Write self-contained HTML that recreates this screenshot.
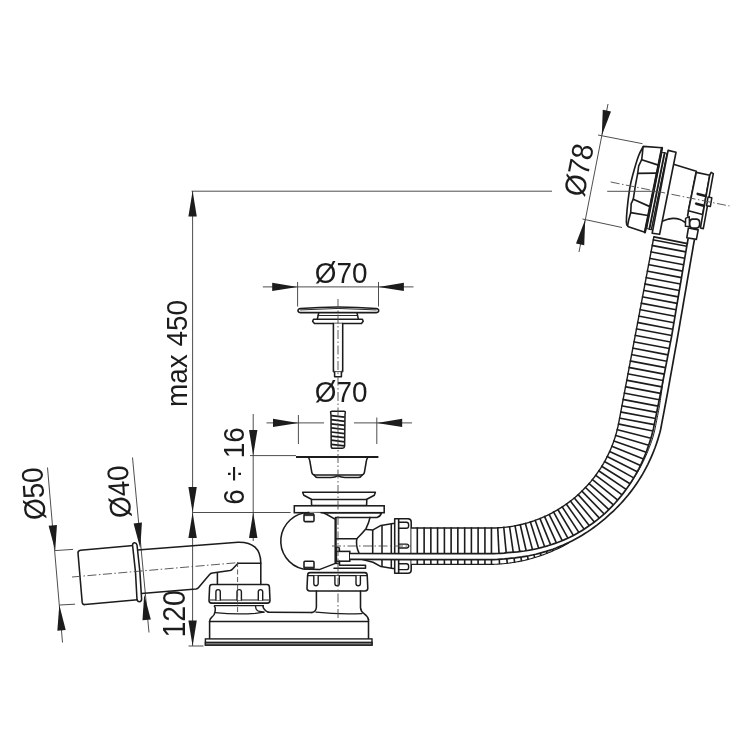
<!DOCTYPE html>
<html lang="pl"><head><meta charset="utf-8"><title>Syfon wannowy - rysunek wymiarowy</title>
<style>
html,body{margin:0;padding:0;background:#fff;}
body{width:750px;height:750px;overflow:hidden;}
svg{display:block;filter:grayscale(100%);}
text{font-family:"Liberation Sans",sans-serif;fill:#1c1c1c;}
</style></head><body>
<svg width="750" height="750" viewBox="0 0 750 750">
<rect width="750" height="750" fill="#ffffff"/>
<line x1="191.6" y1="191.2" x2="552" y2="191.2" stroke="#454545" stroke-width="0.95" stroke-linecap="butt"/>
<line x1="192.6" y1="191" x2="192.6" y2="646" stroke="#454545" stroke-width="0.95" stroke-linecap="butt"/>
<polygon points="192.6,191 196.8,216.4 188.4,216.4" fill="#1c1c1c"/>
<polygon points="192.6,512.5 188.4,487.1 196.8,487.1" fill="#1c1c1c"/>
<polygon points="192.6,512.5 196.8,537.9 188.4,537.9" fill="#1c1c1c"/>
<polygon points="192.6,646 188.4,620.6 196.8,620.6" fill="#1c1c1c"/>
<line x1="188.5" y1="646" x2="203.5" y2="646" stroke="#454545" stroke-width="0.95" stroke-linecap="butt"/>
<line x1="192.6" y1="512.5" x2="290.6" y2="512.5" stroke="#454545" stroke-width="0.95" stroke-linecap="butt"/>
<text font-size="30" text-anchor="middle" transform="translate(186.7 353.5) rotate(-90) scale(0.93 1)">max 450</text>
<text font-size="30.6" text-anchor="middle" transform="translate(184.8 613.8) rotate(-90) scale(0.93 1)">120</text>
<line x1="253.2" y1="414" x2="253.2" y2="541" stroke="#454545" stroke-width="0.95" stroke-linecap="butt"/>
<polygon points="253.2,455.4 249,430 257.4,430" fill="#1c1c1c"/>
<polygon points="253.2,512.5 257.4,537.9 249,537.9" fill="#1c1c1c"/>
<line x1="250" y1="455.6" x2="296" y2="455.6" stroke="#454545" stroke-width="0.95" stroke-linecap="butt"/>
<text font-size="30" text-anchor="middle" transform="translate(243.6 466) rotate(-90) scale(0.93 1)">6 ÷ 16</text>
<line x1="262.8" y1="286.9" x2="413.5" y2="286.9" stroke="#454545" stroke-width="0.95" stroke-linecap="butt"/>
<polygon points="297.6,286.9 272.2,291.1 272.2,282.7" fill="#1c1c1c"/>
<polygon points="378.5,286.9 403.9,282.7 403.9,291.1" fill="#1c1c1c"/>
<line x1="297.6" y1="282" x2="297.6" y2="306.5" stroke="#454545" stroke-width="0.95" stroke-linecap="butt"/>
<line x1="378.5" y1="282" x2="378.5" y2="306.5" stroke="#454545" stroke-width="0.95" stroke-linecap="butt"/>
<text font-size="30" text-anchor="middle" transform="translate(341.2 282.6) rotate(0) scale(0.93 1)">Ø70</text>
<line x1="266.5" y1="422.9" x2="324" y2="422.9" stroke="#454545" stroke-width="0.95" stroke-linecap="butt"/>
<line x1="354" y1="422.9" x2="412" y2="422.9" stroke="#454545" stroke-width="0.95" stroke-linecap="butt"/>
<polygon points="298.4,422.9 273,427.1 273,418.7" fill="#1c1c1c"/>
<polygon points="376.8,422.9 402.2,418.7 402.2,427.1" fill="#1c1c1c"/>
<line x1="298.4" y1="415" x2="298.4" y2="444" stroke="#454545" stroke-width="0.95" stroke-linecap="butt"/>
<line x1="376.8" y1="417.5" x2="376.8" y2="444" stroke="#454545" stroke-width="0.95" stroke-linecap="butt"/>
<text font-size="30" text-anchor="middle" transform="translate(341.2 401.6) rotate(0) scale(0.93 1)">Ø70</text>
<line x1="47.5" y1="467.5" x2="62.5" y2="642.5" stroke="#454545" stroke-width="0.95" stroke-linecap="butt"/>
<polygon points="55.2,550.6 48.59,525.72 56.95,524.91" fill="#1c1c1c"/>
<polygon points="59.3,605 65.71,629.93 57.34,630.67" fill="#1c1c1c"/>
<line x1="55" y1="550.6" x2="73" y2="549.4" stroke="#454545" stroke-width="0.95" stroke-linecap="butt"/>
<line x1="59.5" y1="605" x2="75" y2="604.2" stroke="#454545" stroke-width="0.95" stroke-linecap="butt"/>
<text font-size="30" text-anchor="middle" transform="translate(44 493) rotate(-94) scale(0.93 1)">Ø50</text>
<line x1="132.5" y1="457.5" x2="149" y2="632.5" stroke="#454545" stroke-width="0.95" stroke-linecap="butt"/>
<polygon points="140.2,548.3 133.59,523.42 141.95,522.61" fill="#1c1c1c"/>
<polygon points="144.2,594.5 150.81,619.38 142.45,620.19" fill="#1c1c1c"/>
<text font-size="30" text-anchor="middle" transform="translate(129.5 491) rotate(-94) scale(0.93 1)">Ø40</text>
<line x1="608" y1="104" x2="579" y2="252" stroke="#454545" stroke-width="0.95" stroke-linecap="butt"/>
<polygon points="601.8,135.5 602.76,109.77 610.99,111.45" fill="#1c1c1c"/>
<polygon points="585.2,219.5 584.24,245.23 576.01,243.55" fill="#1c1c1c"/>
<line x1="598" y1="135" x2="642.5" y2="143.7" stroke="#454545" stroke-width="0.95" stroke-linecap="butt"/>
<line x1="582.5" y1="219" x2="622" y2="227.5" stroke="#454545" stroke-width="0.95" stroke-linecap="butt"/>
<text font-size="30" text-anchor="middle" transform="translate(589 172) rotate(-79) scale(0.93 1)">Ø78</text>
<path d="M298,310.6 Q298,308.9 300.5,308.6 Q338,305.2 376.2,308.6 Q378.7,308.9 378.7,310.6 Q378.7,312.6 376.5,312.6 L300.2,312.6 Q298,312.6 298,310.6 Z" fill="#fff" stroke="#1c1c1c" stroke-width="1.55" stroke-linejoin="round" stroke-linecap="round"/>
<path d="M300.5,309.9 Q338,307 376.2,309.9" fill="none" stroke="#1c1c1c" stroke-width="0.95" stroke-linejoin="round" stroke-linecap="round"/>
<path d="M318.7,312.8 L317.3,319.3 M357,312.8 L358.4,319.3" fill="none" stroke="#1c1c1c" stroke-width="1.55" stroke-linejoin="round" stroke-linecap="round"/>
<path d="M318,315.5 L357.7,315.5" fill="none" stroke="#1c1c1c" stroke-width="0.95" stroke-linejoin="round" stroke-linecap="round"/>
<path d="M313.5,319.3 L362.4,319.3 L363.2,321.3 L361.5,323.4 L314.4,323.4 L312.6,321.3 Z" fill="#fff" stroke="#1c1c1c" stroke-width="1.55" stroke-linejoin="round" stroke-linecap="round"/>
<path d="M333.4,323.6 L333.4,371.6 L334.6,371.6 L334.6,376.7 L341.4,376.7 L341.4,371.6 L342.7,371.6 L342.7,323.6" fill="#fff" stroke="#1c1c1c" stroke-width="1.55" stroke-linejoin="round" stroke-linecap="round"/>
<line x1="333.4" y1="371.6" x2="342.7" y2="371.6" stroke="#454545" stroke-width="0.95" stroke-linecap="butt"/>
<path d="M330.6,412.2 Q330.4,411.3 332,411.3 L344,411.3 Q345.5,411.3 345.3,412.5 L345,415 L344.6,446.5 Q344.4,448.3 342.5,448.3 L333,448.3 Q331.2,448.3 331.2,446.5 L331,415 Z" fill="#fff" stroke="#1c1c1c" stroke-width="1.5" stroke-linejoin="round" stroke-linecap="round"/>
<line x1="331.2" y1="415.6" x2="344.7" y2="417.2" stroke="#1c1c1c" stroke-width="1.7" stroke-linecap="butt"/>
<line x1="331.2" y1="419.7" x2="344.7" y2="421.3" stroke="#1c1c1c" stroke-width="1.7" stroke-linecap="butt"/>
<line x1="331.2" y1="423.8" x2="344.7" y2="425.4" stroke="#1c1c1c" stroke-width="1.7" stroke-linecap="butt"/>
<line x1="331.2" y1="427.9" x2="344.7" y2="429.5" stroke="#1c1c1c" stroke-width="1.7" stroke-linecap="butt"/>
<line x1="331.2" y1="432" x2="344.7" y2="433.6" stroke="#1c1c1c" stroke-width="1.7" stroke-linecap="butt"/>
<line x1="331.2" y1="436.1" x2="344.7" y2="437.7" stroke="#1c1c1c" stroke-width="1.7" stroke-linecap="butt"/>
<line x1="331.2" y1="440.2" x2="344.7" y2="441.8" stroke="#1c1c1c" stroke-width="1.7" stroke-linecap="butt"/>
<line x1="331.2" y1="444.3" x2="344.7" y2="445.9" stroke="#1c1c1c" stroke-width="1.7" stroke-linecap="butt"/>
<line x1="296" y1="457" x2="378.4" y2="457" stroke="#1c1c1c" stroke-width="2.0" stroke-linecap="butt"/>
<path d="M308.6,457.8 Q309.6,458.6 310,462 L311.8,472.4 Q312.2,474.8 315,475 L361.2,475 Q364,474.8 364.4,472.4 L366.2,462 Q366.6,458.6 367.6,457.8" fill="none" stroke="#1c1c1c" stroke-width="1.55" stroke-linejoin="round" stroke-linecap="round"/>
<path d="M314,475.2 Q315.5,477.6 318,477.5 L331,477.5 Q335,477.4 338,475.8 Q341,477.4 345,477.5 L358.2,477.5 Q360.7,477.6 362.2,475.2" fill="none" stroke="#1c1c1c" stroke-width="1.55" stroke-linejoin="round" stroke-linecap="round"/>
<path d="M302.7,492.3 L375.4,492.3 L374.3,495.2 L366.8,499.3 L366.6,505.4 L311.6,505.4 L311.4,499.3 L303.8,495.2 Z" fill="#fff" stroke="#1c1c1c" stroke-width="1.55" stroke-linejoin="round" stroke-linecap="round"/>
<line x1="311.4" y1="499.4" x2="366.8" y2="499.4" stroke="#1c1c1c" stroke-width="1.55" stroke-linecap="butt"/>
<rect x="294.3" y="505.8" width="89.9" height="6.9" rx="0" fill="#fff" stroke="#1c1c1c" stroke-width="1.55"/>
<path d="M327,512.8 L381.5,512.8 Q380.5,516.6 377,517.4 L335.5,517.4" fill="none" stroke="#1c1c1c" stroke-width="1.55" stroke-linejoin="round" stroke-linecap="round"/>
<path d="M309,512.6 A28.5,28.5 0 0 0 303,568.9 L319.3,569.6 L335.4,563.4 L335.4,519.4 L326,514 Q323.5,512.8 321,512.8" fill="#fff" stroke="#1c1c1c" stroke-width="1.55" stroke-linejoin="round" stroke-linecap="round"/>
<line x1="335.7" y1="517.4" x2="335.7" y2="563.4" stroke="#1c1c1c" stroke-width="2.0" stroke-linecap="butt"/>
<rect x="304" y="514" width="10" height="7.6" rx="1" fill="#fff" stroke="#1c1c1c" stroke-width="1.55"/>
<rect x="304.3" y="513.6" width="9.4" height="2.2" rx="0" fill="#333" stroke="#1c1c1c" stroke-width="0.6"/>
<rect x="304" y="561.2" width="10" height="7.6" rx="1" fill="#fff" stroke="#1c1c1c" stroke-width="1.55"/>
<rect x="304.3" y="567" width="9.4" height="2.2" rx="0" fill="#333" stroke="#1c1c1c" stroke-width="0.6"/>
<path d="M370,517.4 Q369.2,522 366,528.7 Q362,533.5 356.8,538.7 L336,538.7" fill="none" stroke="#1c1c1c" stroke-width="1.55" stroke-linejoin="round" stroke-linecap="round"/>
<path d="M356.8,538.7 Q355.6,546 359,553" fill="none" stroke="#1c1c1c" stroke-width="1.55" stroke-linejoin="round" stroke-linecap="round"/>
<path d="M366.3,529.6 L373,529.9 L381,525.4 L393,523.5 L394.7,523.5" fill="none" stroke="#1c1c1c" stroke-width="1.55" stroke-linejoin="round" stroke-linecap="round"/>
<path d="M362.5,559.6 L373,562.2 L381,566.6 L393,568.5 L394.7,568.5" fill="none" stroke="#1c1c1c" stroke-width="1.55" stroke-linejoin="round" stroke-linecap="round"/>
<line x1="372.7" y1="530" x2="372.7" y2="553.3" stroke="#1c1c1c" stroke-width="1.55" stroke-linecap="butt"/>
<line x1="382" y1="525.2" x2="382" y2="553.3" stroke="#1c1c1c" stroke-width="1.55" stroke-linecap="butt"/>
<line x1="391.3" y1="523.7" x2="391.3" y2="553.3" stroke="#1c1c1c" stroke-width="1.55" stroke-linecap="butt"/>
<line x1="382" y1="559.4" x2="382" y2="567" stroke="#1c1c1c" stroke-width="1.55" stroke-linecap="butt"/>
<line x1="391.3" y1="559.4" x2="391.3" y2="568.3" stroke="#1c1c1c" stroke-width="1.55" stroke-linecap="butt"/>
<path d="M394.7,518.7 L398.7,518.7 L398.7,573.3 L394.7,573.3 Z" fill="#fff" stroke="#1c1c1c" stroke-width="1.55" stroke-linejoin="round" stroke-linecap="round"/>
<path d="M398.7,518.7 L408,518.7 Q411.2,518.7 411.2,522 L411.2,570 Q411.2,573.3 408,573.3 L398.7,573.3 Z" fill="#fff" stroke="#1c1c1c" stroke-width="1.55" stroke-linejoin="round" stroke-linecap="round"/>
<path d="M398.7,522.3 L406.40000000000003,522.3 Q408.6,522.3 408.6,524.5 L408.6,526.0 Q408.6,528.2 406.40000000000003,528.2 L398.7,528.2" fill="none" stroke="#1c1c1c" stroke-width="1.4" stroke-linejoin="round" stroke-linecap="round"/>
<path d="M398.7,544.1 L406.65000000000003,544.1 Q408.6,544.1 408.6,546.05 L408.6,546.05 Q408.6,548 406.65000000000003,548 L398.7,548" fill="none" stroke="#1c1c1c" stroke-width="1.4" stroke-linejoin="round" stroke-linecap="round"/>
<path d="M398.7,563.8 L406.40000000000003,563.8 Q408.6,563.8 408.6,566.0 L408.6,567.4 Q408.6,569.6 406.40000000000003,569.6 L398.7,569.6" fill="none" stroke="#1c1c1c" stroke-width="1.4" stroke-linejoin="round" stroke-linecap="round"/>
<path d="M336,551.3 L336,548.8 Q336,547.3 337.7,547.3 Q339.4,547.3 339.4,548.8 L339.4,551.3" fill="none" stroke="#1c1c1c" stroke-width="1.55" stroke-linejoin="round" stroke-linecap="round"/>
<rect x="336.4" y="551.4" width="13.4" height="9.8" rx="0" fill="#fff" stroke="#1c1c1c" stroke-width="1.55"/>
<path d="M339.5,561.3 L339.5,565.3 L365.5,565.3 L365.5,568.2 L334,568.2" fill="none" stroke="#1c1c1c" stroke-width="1.55" stroke-linejoin="round" stroke-linecap="round"/>
<line x1="335.4" y1="563.4" x2="339.5" y2="563.4" stroke="#1c1c1c" stroke-width="1.55" stroke-linecap="butt"/>
<path d="M268.3,612.3 L312,612.6" fill="none" stroke="#1c1c1c" stroke-width="1.55" stroke-linejoin="round" stroke-linecap="round"/>
<path d="M209.6,621.5 L368.4,621.5" fill="none" stroke="#1c1c1c" stroke-width="1.55" stroke-linejoin="round" stroke-linecap="round"/>
<path d="M209.6,621.5 L209.6,638.8 M368.5,619.6 L368.5,638.8" fill="none" stroke="#1c1c1c" stroke-width="1.55" stroke-linejoin="round" stroke-linecap="round"/>
<rect x="205.4" y="638.9" width="166.6" height="6.2" rx="0" fill="#fff" stroke="#1c1c1c" stroke-width="1.4"/>
<rect x="205.4" y="642.3" width="166.6" height="2.8" rx="0" fill="#777" stroke="#1c1c1c" stroke-width="1.3"/>
<path d="M212.10000000000002,584.4 L266.9,584.4 Q269.3,584.4 269.4,587.0 L270.0,600.5 Q270.0,603.1 267.3,603.1 L211.70000000000002,603.1 Q209.0,603.1 209.0,600.5 L209.60000000000002,587.0 Q209.70000000000002,584.4 212.10000000000002,584.4 Z" fill="#fff" stroke="#1c1c1c" stroke-width="1.55" stroke-linejoin="round" stroke-linecap="round"/>
<line x1="209.7" y1="600" x2="269.3" y2="600" stroke="#1c1c1c" stroke-width="1.2" stroke-linecap="butt"/>
<path d="M215.9,600.0 L215.9,591.8 A2.2,2.2 0 0 1 220.29999999999998,591.8 L220.29999999999998,600.0" fill="#fff" stroke="#1c1c1c" stroke-width="1.4" stroke-linejoin="round" stroke-linecap="round"/>
<path d="M237.0,600.0 L237.0,591.8 A2.2,2.2 0 0 1 241.39999999999998,591.8 L241.39999999999998,600.0" fill="#fff" stroke="#1c1c1c" stroke-width="1.4" stroke-linejoin="round" stroke-linecap="round"/>
<path d="M258.3,600.0 L258.3,591.8 A2.2,2.2 0 0 1 262.7,591.8 L262.7,600.0" fill="#fff" stroke="#1c1c1c" stroke-width="1.4" stroke-linejoin="round" stroke-linecap="round"/>
<line x1="213.9" y1="605.7" x2="264" y2="605.7" stroke="#1c1c1c" stroke-width="1.2" stroke-linecap="butt"/>
<path d="M214.4,606.4 Q215.4,607 215.3,609 L215,612 Q214.6,615.2 211.6,617.4 Q209.8,618.8 209.6,621.5" fill="none" stroke="#1c1c1c" stroke-width="1.55" stroke-linejoin="round" stroke-linecap="round"/>
<path d="M215,612.7 Q237,614.8 255.5,613.3 L264,612.2" fill="none" stroke="#1c1c1c" stroke-width="1.2" stroke-linejoin="round" stroke-linecap="round"/>
<path d="M255.5,606 Q255.6,610 258.4,611.2 L264,612.2" fill="none" stroke="#1c1c1c" stroke-width="1.2" stroke-linejoin="round" stroke-linecap="round"/>
<path d="M262.9,606 Q263.2,609.6 268.3,612.3" fill="none" stroke="#1c1c1c" stroke-width="1.55" stroke-linejoin="round" stroke-linecap="round"/>
<path d="M310.1,572.6 L364.7,572.6 Q367.1,572.6 367.2,575.2 L367.8,588.3 Q367.8,590.9 365.1,590.9 L309.7,590.9 Q307.0,590.9 307.0,588.3 L307.6,575.2 Q307.7,572.6 310.1,572.6 Z" fill="#fff" stroke="#1c1c1c" stroke-width="1.55" stroke-linejoin="round" stroke-linecap="round"/>
<line x1="307.9" y1="575.7" x2="366.9" y2="575.7" stroke="#1c1c1c" stroke-width="1.2" stroke-linecap="butt"/>
<path d="M313.8,575.7 L313.8,583.5 A2.2,2.2 0 0 0 318.2,583.5 L318.2,575.7" fill="#fff" stroke="#1c1c1c" stroke-width="1.4" stroke-linejoin="round" stroke-linecap="round"/>
<path d="M334.90000000000003,575.7 L334.90000000000003,583.5 A2.2,2.2 0 0 0 339.3,583.5 L339.3,575.7" fill="#fff" stroke="#1c1c1c" stroke-width="1.4" stroke-linejoin="round" stroke-linecap="round"/>
<path d="M356.0,575.7 L356.0,583.5 A2.2,2.2 0 0 0 360.4,583.5 L360.4,575.7" fill="#fff" stroke="#1c1c1c" stroke-width="1.4" stroke-linejoin="round" stroke-linecap="round"/>
<path d="M316.4,590.9 L316.4,607 Q316.2,611.6 312,612.6" fill="none" stroke="#1c1c1c" stroke-width="1.55" stroke-linejoin="round" stroke-linecap="round"/>
<path d="M360.5,590.9 L360.5,607.6 Q360.8,611.4 364,613.6 Q368,616.4 368.5,619.6" fill="none" stroke="#1c1c1c" stroke-width="1.55" stroke-linejoin="round" stroke-linecap="round"/>
<path d="M316,612.2 Q338,614.6 362,613.6" fill="none" stroke="#1c1c1c" stroke-width="1.2" stroke-linejoin="round" stroke-linecap="round"/>
<path d="M137.6,550 L238,542.2 Q260.6,541.6 260.8,563 L260.8,584.4" fill="none" stroke="#1c1c1c" stroke-width="1.55" stroke-linejoin="round" stroke-linecap="round"/>
<path d="M141.4,593.4 L196,588.9 Q197.6,588.7 198.6,587.5 L209.6,574.6 Q210.6,573.4 212.5,573.1 L230,570.5 Q231.6,570.2 232.6,569 L238,563.3 L260.8,563.2" fill="none" stroke="#1c1c1c" stroke-width="1.55" stroke-linejoin="round" stroke-linecap="round"/>
<line x1="217.4" y1="572.8" x2="217.4" y2="584.4" stroke="#1c1c1c" stroke-width="1.55" stroke-linecap="butt"/>
<path d="M133.4,545.4 L80.4,550.2 Q77.8,550.6 78,553 L82.2,602.4 Q82.6,604.8 85,604.6 L137.6,599.8" fill="none" stroke="#1c1c1c" stroke-width="1.55" stroke-linejoin="round" stroke-linecap="round"/>
<path d="M134.2,542.8 Q136.4,542.6 137,545 Q140.6,573 141.6,599 Q141.6,601.6 139.4,601.7 Q137.4,601.7 137,599.4 Q136.2,572 132.6,545.4 Q132.4,543.2 134.2,542.8 Z" fill="#fff" stroke="#1c1c1c" stroke-width="1.55" stroke-linejoin="round" stroke-linecap="round"/>
<line x1="338" y1="299" x2="338" y2="620" stroke="#4a4a4a" stroke-width="0.9" stroke-dasharray="9 2.5 1.5 2.5" stroke-linecap="butt"/>
<line x1="237.6" y1="562" x2="237.6" y2="612" stroke="#4a4a4a" stroke-width="0.9" stroke-dasharray="5 2.5" stroke-linecap="butt"/>
<line x1="72" y1="577" x2="236" y2="562.8" stroke="#4a4a4a" stroke-width="0.9" stroke-dasharray="9 2.5 1.5 2.5" stroke-linecap="butt"/>
<line x1="332" y1="546" x2="415.5" y2="546" stroke="#4a4a4a" stroke-width="0.9" stroke-dasharray="9 2.5 1.5 2.5" stroke-linecap="butt"/>
<path d="M411.4,528 L414.2,528 L417,528 L419.8,528 L422.6,528 L425.4,528 L428.2,528 L431,528 L433.8,528 L436.6,528 L439.4,528 L442.2,528 L445,528 L447.8,528 L450.6,528 L453.4,528 L456.2,528 L459.01,528 L461.81,528 L464.61,528 L467.41,528 L470.21,528 L473.01,528 L475.81,528 L478.61,528 L481.41,528 L484.21,528 L487.01,528 L489.81,528 L492.61,527.99 L495.41,527.93 L498.21,527.82 L501,527.64 L503.79,527.4 L506.57,527.1 L509.35,526.74 L512.12,526.32 L514.88,525.84 L517.63,525.3 L520.36,524.7 L523.09,524.05 L525.79,523.33 L528.48,522.56 L531.16,521.73 L533.81,520.84 L536.45,519.89 L539.06,518.89 L541.66,517.83 L544.23,516.72 L546.77,515.55 L549.29,514.33 L551.78,513.05 L554.24,511.72 L556.68,510.33 L559.08,508.9 L561.45,507.41 L563.79,505.87 L566.1,504.28 L568.37,502.64 L570.61,500.96 L572.8,499.22 L574.96,497.44 L577.09,495.61 L579.17,493.74 L581.21,491.82 L583.21,489.86 L585.16,487.85 L587.07,485.81 L588.94,483.72 L590.76,481.6 L592.54,479.43 L594.27,477.23 L595.95,474.99 L597.58,472.71 L599.16,470.4 L600.7,468.06 L602.18,465.68 L603.61,463.28 L604.99,460.84 L606.31,458.37 L607.58,455.88 L608.8,453.35 L609.96,450.81 L611.07,448.23 L612.12,445.64 L613.12,443.02 L614.05,440.38 L614.94,437.72 L615.76,435.05 L616.53,432.36 L617.23,429.65 L617.88,426.92 L618.47,424.18 L619.01,421.44 L619.53,418.68 L620.05,415.93 L620.57,413.18 L621.09,410.43 L621.61,407.68 L622.13,404.93 L622.65,402.17 L623.17,399.42 L623.69,396.67 L624.21,393.92 L624.73,391.17 L625.25,388.42 L625.77,385.66 L626.29,382.91 L626.81,380.16 L627.33,377.41 L627.85,374.66 L628.37,371.91 L628.88,369.15 L629.4,366.4 L629.92,363.65 L630.44,360.9 L630.96,358.15 L631.48,355.4 L632,352.64 L632.52,349.89 L633.04,347.14 L633.56,344.39 L634.08,341.64 L634.6,338.89 L635.12,336.14 L635.64,333.38 L636.16,330.63 L636.68,327.88 L637.2,325.13 L637.72,322.38 L638.24,319.63 L638.76,316.87 L639.28,314.12 L639.8,311.37 L640.32,308.62 L640.84,305.87 L641.36,303.12 L641.88,300.36 L642.4,297.61 L642.92,294.86 L643.44,292.11 L643.96,289.36 L644.48,286.61 L645,283.85 L645.52,281.1 L646.04,278.35 L646.56,275.6 L647.08,272.85 L647.6,270.1 L648.12,267.34 L648.64,264.59 L649.16,261.84 L649.68,259.09 L650.2,256.34 L650.72,253.59 L651.24,250.84 L651.76,248.08 L652.28,245.33 L652.8,242.58 L653.32,239.83 L653.84,237.08 L693.54,244.58 L693.06,247.34 L692.59,250.1 L692.11,252.86 L691.63,255.62 L691.16,258.38 L690.68,261.14 L690.2,263.9 L689.73,266.66 L689.25,269.42 L688.78,272.18 L688.3,274.94 L687.82,277.7 L687.35,280.46 L686.87,283.22 L686.39,285.98 L685.92,288.74 L685.44,291.5 L684.97,294.26 L684.49,297.02 L684.01,299.78 L683.54,302.54 L683.06,305.29 L682.58,308.05 L682.11,310.81 L681.63,313.57 L681.16,316.33 L680.68,319.09 L680.2,321.85 L679.73,324.61 L679.25,327.37 L678.77,330.13 L678.3,332.89 L677.82,335.65 L677.34,338.41 L676.85,341.17 L676.35,343.92 L675.85,346.68 L675.36,349.44 L674.86,352.19 L674.37,354.95 L673.87,357.71 L673.37,360.46 L672.88,363.22 L672.38,365.97 L671.89,368.73 L671.39,371.49 L670.9,374.24 L670.4,377 L669.9,379.76 L669.41,382.51 L668.91,385.27 L668.42,388.02 L667.92,390.78 L667.43,393.54 L666.91,396.29 L666.39,399.04 L665.87,401.79 L665.35,404.54 L664.83,407.29 L664.31,410.05 L663.79,412.8 L663.27,415.55 L662.75,418.3 L662.23,421.05 L661.71,423.8 L661.19,426.56 L660.67,429.31 L659.86,432.64 L658.84,436.22 L657.76,439.76 L656.59,443.28 L655.36,446.77 L654.05,450.23 L652.68,453.66 L651.24,457.05 L649.73,460.4 L648.14,463.72 L646.49,467 L644.77,470.24 L642.98,473.43 L641.12,476.58 L639.19,479.68 L637.19,482.74 L635.14,485.74 L633.02,488.7 L630.84,491.61 L628.6,494.46 L626.3,497.26 L623.95,500.01 L621.54,502.7 L619.08,505.34 L616.56,507.91 L613.99,510.43 L611.37,512.89 L608.71,515.29 L606.05,517.68 L603.34,520.02 L600.58,522.29 L597.78,524.51 L594.94,526.66 L592.05,528.74 L589.12,530.76 L586.15,532.72 L583.14,534.61 L580.1,536.43 L577.02,538.18 L573.9,539.87 L570.75,541.49 L567.82,543.5 L564.71,545.2 L561.56,546.84 L558.38,548.41 L555.16,549.91 L551.91,551.34 L548.62,552.7 L545.31,554 L541.96,555.22 L538.59,556.36 L535.19,557.44 L531.77,558.44 L528.33,559.37 L524.86,560.23 L521.38,561.01 L517.87,561.7 L514.35,562.31 L510.81,562.84 L507.26,563.3 L503.7,563.68 L500.13,563.98 L496.56,564.21 L492.98,564.36 L489.81,564.4 L487.01,564.4 L484.21,564.4 L481.41,564.4 L478.61,564.4 L475.81,564.4 L473.01,564.4 L470.21,564.4 L467.41,564.4 L464.61,564.4 L461.81,564.4 L459.01,564.4 L456.2,564.4 L453.4,564.4 L450.6,564.4 L447.8,564.4 L445,564.4 L442.2,564.4 L439.4,564.4 L436.6,564.4 L433.8,564.4 L431,564.4 L428.2,564.4 L425.4,564.4 L422.6,564.4 L419.8,564.4 L417,564.4 L414.2,564.4 L411.4,564.4 Z" fill="#fff" stroke="none" stroke-width="0" stroke-linejoin="round" stroke-linecap="round"/>
<line x1="417.3" y1="527.3" x2="417.3" y2="553.7" stroke="#1c1c1c" stroke-width="1.6" stroke-linecap="butt"/>
<line x1="417.3" y1="559.6" x2="417.3" y2="564.7" stroke="#1c1c1c" stroke-width="1.6" stroke-linecap="butt"/>
<line x1="424.13" y1="527.3" x2="424.13" y2="553.7" stroke="#1c1c1c" stroke-width="1.6" stroke-linecap="butt"/>
<line x1="424.13" y1="559.6" x2="424.13" y2="564.7" stroke="#1c1c1c" stroke-width="1.6" stroke-linecap="butt"/>
<line x1="430.85" y1="527.3" x2="430.85" y2="553.7" stroke="#1c1c1c" stroke-width="1.6" stroke-linecap="butt"/>
<line x1="430.85" y1="559.6" x2="430.85" y2="564.7" stroke="#1c1c1c" stroke-width="1.6" stroke-linecap="butt"/>
<line x1="437.57" y1="527.3" x2="437.57" y2="553.7" stroke="#1c1c1c" stroke-width="1.6" stroke-linecap="butt"/>
<line x1="437.57" y1="559.6" x2="437.57" y2="564.7" stroke="#1c1c1c" stroke-width="1.6" stroke-linecap="butt"/>
<line x1="444.4" y1="527.3" x2="444.4" y2="553.7" stroke="#1c1c1c" stroke-width="1.6" stroke-linecap="butt"/>
<line x1="444.4" y1="559.6" x2="444.4" y2="564.7" stroke="#1c1c1c" stroke-width="1.6" stroke-linecap="butt"/>
<line x1="451.12" y1="527.3" x2="451.12" y2="553.7" stroke="#1c1c1c" stroke-width="1.6" stroke-linecap="butt"/>
<line x1="451.12" y1="559.6" x2="451.12" y2="564.7" stroke="#1c1c1c" stroke-width="1.6" stroke-linecap="butt"/>
<line x1="457.84" y1="527.3" x2="457.84" y2="553.7" stroke="#1c1c1c" stroke-width="1.6" stroke-linecap="butt"/>
<line x1="457.84" y1="559.6" x2="457.84" y2="564.7" stroke="#1c1c1c" stroke-width="1.6" stroke-linecap="butt"/>
<line x1="464.67" y1="527.3" x2="464.67" y2="553.7" stroke="#1c1c1c" stroke-width="1.6" stroke-linecap="butt"/>
<line x1="464.67" y1="559.6" x2="464.67" y2="564.7" stroke="#1c1c1c" stroke-width="1.6" stroke-linecap="butt"/>
<line x1="471.39" y1="527.3" x2="471.39" y2="553.7" stroke="#1c1c1c" stroke-width="1.6" stroke-linecap="butt"/>
<line x1="471.39" y1="559.6" x2="471.39" y2="564.7" stroke="#1c1c1c" stroke-width="1.6" stroke-linecap="butt"/>
<line x1="478.11" y1="527.3" x2="478.11" y2="553.7" stroke="#1c1c1c" stroke-width="1.6" stroke-linecap="butt"/>
<line x1="478.11" y1="559.6" x2="478.11" y2="564.7" stroke="#1c1c1c" stroke-width="1.6" stroke-linecap="butt"/>
<line x1="484.93" y1="527.3" x2="484.93" y2="553.7" stroke="#1c1c1c" stroke-width="1.6" stroke-linecap="butt"/>
<line x1="484.93" y1="559.6" x2="484.93" y2="564.7" stroke="#1c1c1c" stroke-width="1.6" stroke-linecap="butt"/>
<line x1="491.44" y1="527.3" x2="491.46" y2="553.7" stroke="#1c1c1c" stroke-width="1.6" stroke-linecap="butt"/>
<line x1="491.47" y1="559.6" x2="491.48" y2="564.7" stroke="#1c1c1c" stroke-width="1.6" stroke-linecap="butt"/>
<line x1="497.69" y1="527.14" x2="498.99" y2="553.43" stroke="#1c1c1c" stroke-width="1.6" stroke-linecap="butt"/>
<line x1="499.28" y1="559.32" x2="499.53" y2="564.33" stroke="#1c1c1c" stroke-width="1.6" stroke-linecap="butt"/>
<line x1="503.71" y1="526.7" x2="506.23" y2="552.82" stroke="#1c1c1c" stroke-width="1.6" stroke-linecap="butt"/>
<line x1="506.8" y1="558.7" x2="507.27" y2="563.6" stroke="#1c1c1c" stroke-width="1.6" stroke-linecap="butt"/>
<line x1="509.49" y1="526.01" x2="513.21" y2="552.16" stroke="#1c1c1c" stroke-width="1.6" stroke-linecap="butt"/>
<line x1="514.03" y1="557.92" x2="514.69" y2="562.56" stroke="#1c1c1c" stroke-width="1.6" stroke-linecap="butt"/>
<line x1="514.91" y1="525.12" x2="519.83" y2="551.56" stroke="#1c1c1c" stroke-width="1.6" stroke-linecap="butt"/>
<line x1="520.86" y1="557.1" x2="521.63" y2="561.26" stroke="#1c1c1c" stroke-width="1.6" stroke-linecap="butt"/>
<line x1="520.08" y1="524.05" x2="526.18" y2="550.71" stroke="#1c1c1c" stroke-width="1.6" stroke-linecap="butt"/>
<line x1="527.4" y1="556.03" x2="528.24" y2="559.71" stroke="#1c1c1c" stroke-width="1.6" stroke-linecap="butt"/>
<line x1="525.21" y1="522.77" x2="532.51" y2="549.6" stroke="#1c1c1c" stroke-width="1.6" stroke-linecap="butt"/>
<line x1="533.9" y1="554.69" x2="534.77" y2="557.88" stroke="#1c1c1c" stroke-width="1.6" stroke-linecap="butt"/>
<line x1="530.17" y1="521.31" x2="538.68" y2="548.26" stroke="#1c1c1c" stroke-width="1.6" stroke-linecap="butt"/>
<line x1="540.22" y1="553.12" x2="541.08" y2="555.84" stroke="#1c1c1c" stroke-width="1.6" stroke-linecap="butt"/>
<line x1="534.97" y1="519.69" x2="544.68" y2="546.69" stroke="#1c1c1c" stroke-width="1.6" stroke-linecap="butt"/>
<line x1="546.35" y1="551.34" x2="547.16" y2="553.6" stroke="#1c1c1c" stroke-width="1.6" stroke-linecap="butt"/>
<line x1="539.71" y1="517.88" x2="550.63" y2="544.89" stroke="#1c1c1c" stroke-width="1.6" stroke-linecap="butt"/>
<line x1="552.42" y1="549.31" x2="553.15" y2="551.13" stroke="#1c1c1c" stroke-width="1.6" stroke-linecap="butt"/>
<line x1="544.27" y1="515.93" x2="556.4" y2="542.9" stroke="#1c1c1c" stroke-width="1.6" stroke-linecap="butt"/>
<line x1="558.28" y1="547.09" x2="558.91" y2="548.49" stroke="#1c1c1c" stroke-width="1.6" stroke-linecap="butt"/>
<line x1="548.84" y1="513.77" x2="562.22" y2="540.63" stroke="#1c1c1c" stroke-width="1.6" stroke-linecap="butt"/>
<line x1="564.19" y1="544.59" x2="564.68" y2="545.56" stroke="#1c1c1c" stroke-width="1.6" stroke-linecap="butt"/>
<line x1="553.24" y1="511.47" x2="567.84" y2="538.18" stroke="#1c1c1c" stroke-width="1.6" stroke-linecap="butt"/>
<line x1="557.54" y1="509.01" x2="573.34" y2="535.43" stroke="#1c1c1c" stroke-width="1.6" stroke-linecap="butt"/>
<line x1="561.84" y1="506.32" x2="578.83" y2="532.36" stroke="#1c1c1c" stroke-width="1.6" stroke-linecap="butt"/>
<line x1="565.94" y1="503.54" x2="584.09" y2="529.15" stroke="#1c1c1c" stroke-width="1.6" stroke-linecap="butt"/>
<line x1="570.02" y1="500.53" x2="589.34" y2="525.65" stroke="#1c1c1c" stroke-width="1.6" stroke-linecap="butt"/>
<line x1="573.89" y1="497.43" x2="594.35" y2="522.02" stroke="#1c1c1c" stroke-width="1.6" stroke-linecap="butt"/>
<line x1="577.72" y1="494.11" x2="599.34" y2="518.1" stroke="#1c1c1c" stroke-width="1.6" stroke-linecap="butt"/>
<line x1="581.41" y1="490.65" x2="604.17" y2="513.99" stroke="#1c1c1c" stroke-width="1.6" stroke-linecap="butt"/>
<line x1="584.97" y1="487.04" x2="608.8" y2="509.63" stroke="#1c1c1c" stroke-width="1.6" stroke-linecap="butt"/>
<line x1="588.53" y1="483.13" x2="613.41" y2="504.87" stroke="#1c1c1c" stroke-width="1.6" stroke-linecap="butt"/>
<line x1="591.85" y1="479.17" x2="617.75" y2="500.02" stroke="#1c1c1c" stroke-width="1.6" stroke-linecap="butt"/>
<line x1="595.14" y1="474.9" x2="622.06" y2="494.78" stroke="#1c1c1c" stroke-width="1.6" stroke-linecap="butt"/>
<line x1="598.26" y1="470.5" x2="626.15" y2="489.36" stroke="#1c1c1c" stroke-width="1.6" stroke-linecap="butt"/>
<line x1="601.18" y1="465.97" x2="630.02" y2="483.76" stroke="#1c1c1c" stroke-width="1.6" stroke-linecap="butt"/>
<line x1="603.97" y1="461.23" x2="633.73" y2="477.88" stroke="#1c1c1c" stroke-width="1.6" stroke-linecap="butt"/>
<line x1="606.6" y1="456.28" x2="637.25" y2="471.72" stroke="#1c1c1c" stroke-width="1.6" stroke-linecap="butt"/>
<line x1="609.01" y1="451.22" x2="640.48" y2="465.4" stroke="#1c1c1c" stroke-width="1.6" stroke-linecap="butt"/>
<line x1="611.2" y1="446.06" x2="643.44" y2="458.94" stroke="#1c1c1c" stroke-width="1.6" stroke-linecap="butt"/>
<line x1="613.2" y1="440.71" x2="646.17" y2="452.21" stroke="#1c1c1c" stroke-width="1.6" stroke-linecap="butt"/>
<line x1="614.99" y1="435.17" x2="648.66" y2="445.24" stroke="#1c1c1c" stroke-width="1.6" stroke-linecap="butt"/>
<line x1="616.53" y1="429.56" x2="650.94" y2="438.18" stroke="#1c1c1c" stroke-width="1.6" stroke-linecap="butt"/>
<line x1="617.82" y1="423.88" x2="652.91" y2="431.01" stroke="#1c1c1c" stroke-width="1.6" stroke-linecap="butt"/>
<line x1="618.96" y1="417.93" x2="654.28" y2="424.61" stroke="#1c1c1c" stroke-width="1.6" stroke-linecap="butt"/>
<line x1="620.1" y1="411.86" x2="655.49" y2="418.55" stroke="#1c1c1c" stroke-width="1.6" stroke-linecap="butt"/>
<line x1="621.27" y1="405.68" x2="656.72" y2="412.38" stroke="#1c1c1c" stroke-width="1.6" stroke-linecap="butt"/>
<line x1="622.46" y1="399.4" x2="657.98" y2="406.11" stroke="#1c1c1c" stroke-width="1.6" stroke-linecap="butt"/>
<line x1="623.67" y1="393.01" x2="659.26" y2="399.74" stroke="#1c1c1c" stroke-width="1.6" stroke-linecap="butt"/>
<line x1="624.87" y1="386.62" x2="660.53" y2="393.36" stroke="#1c1c1c" stroke-width="1.6" stroke-linecap="butt"/>
<line x1="626.1" y1="380.12" x2="661.8" y2="386.87" stroke="#1c1c1c" stroke-width="1.6" stroke-linecap="butt"/>
<line x1="627.31" y1="373.73" x2="663.04" y2="380.49" stroke="#1c1c1c" stroke-width="1.6" stroke-linecap="butt"/>
<line x1="628.51" y1="367.34" x2="664.28" y2="374.1" stroke="#1c1c1c" stroke-width="1.6" stroke-linecap="butt"/>
<line x1="629.74" y1="360.85" x2="665.54" y2="367.61" stroke="#1c1c1c" stroke-width="1.6" stroke-linecap="butt"/>
<line x1="630.95" y1="354.46" x2="666.78" y2="361.23" stroke="#1c1c1c" stroke-width="1.6" stroke-linecap="butt"/>
<line x1="632.16" y1="348.07" x2="668.03" y2="354.84" stroke="#1c1c1c" stroke-width="1.6" stroke-linecap="butt"/>
<line x1="633.36" y1="341.68" x2="669.27" y2="348.46" stroke="#1c1c1c" stroke-width="1.6" stroke-linecap="butt"/>
<line x1="634.59" y1="335.18" x2="670.53" y2="341.97" stroke="#1c1c1c" stroke-width="1.6" stroke-linecap="butt"/>
<line x1="635.8" y1="328.79" x2="671.74" y2="335.58" stroke="#1c1c1c" stroke-width="1.6" stroke-linecap="butt"/>
<line x1="637.01" y1="322.4" x2="672.82" y2="329.17" stroke="#1c1c1c" stroke-width="1.6" stroke-linecap="butt"/>
<line x1="638.21" y1="316.01" x2="673.9" y2="322.75" stroke="#1c1c1c" stroke-width="1.6" stroke-linecap="butt"/>
<line x1="639.44" y1="309.51" x2="675" y2="316.23" stroke="#1c1c1c" stroke-width="1.6" stroke-linecap="butt"/>
<line x1="640.65" y1="303.12" x2="676.08" y2="309.82" stroke="#1c1c1c" stroke-width="1.6" stroke-linecap="butt"/>
<line x1="641.86" y1="296.73" x2="677.15" y2="303.4" stroke="#1c1c1c" stroke-width="1.6" stroke-linecap="butt"/>
<line x1="643.08" y1="290.24" x2="678.25" y2="296.88" stroke="#1c1c1c" stroke-width="1.6" stroke-linecap="butt"/>
<line x1="644.29" y1="283.85" x2="679.33" y2="290.47" stroke="#1c1c1c" stroke-width="1.6" stroke-linecap="butt"/>
<line x1="645.5" y1="277.45" x2="680.41" y2="284.05" stroke="#1c1c1c" stroke-width="1.6" stroke-linecap="butt"/>
<line x1="646.71" y1="271.06" x2="681.49" y2="277.64" stroke="#1c1c1c" stroke-width="1.6" stroke-linecap="butt"/>
<line x1="647.93" y1="264.57" x2="682.59" y2="271.12" stroke="#1c1c1c" stroke-width="1.6" stroke-linecap="butt"/>
<line x1="649.14" y1="258.18" x2="683.67" y2="264.7" stroke="#1c1c1c" stroke-width="1.6" stroke-linecap="butt"/>
<line x1="650.35" y1="251.79" x2="684.74" y2="258.29" stroke="#1c1c1c" stroke-width="1.6" stroke-linecap="butt"/>
<line x1="651.56" y1="245.4" x2="685.82" y2="251.87" stroke="#1c1c1c" stroke-width="1.6" stroke-linecap="butt"/>
<line x1="652.62" y1="239.8" x2="686.77" y2="246.25" stroke="#1c1c1c" stroke-width="1.6" stroke-linecap="butt"/>
<path d="M411.4,528 L414.2,528 L417,528 L419.8,528 L422.6,528 L425.4,528 L428.2,528 L431,528 L433.8,528 L436.6,528 L439.4,528 L442.2,528 L445,528 L447.8,528 L450.6,528 L453.4,528 L456.2,528 L459.01,528 L461.81,528 L464.61,528 L467.41,528 L470.21,528 L473.01,528 L475.81,528 L478.61,528 L481.41,528 L484.21,528 L487.01,528 L489.81,528 L492.61,527.99 L495.41,527.93 L498.21,527.82 L501,527.64 L503.79,527.4 L506.57,527.1 L509.35,526.74 L512.12,526.32 L514.88,525.84 L517.63,525.3 L520.36,524.7 L523.09,524.05 L525.79,523.33 L528.48,522.56 L531.16,521.73 L533.81,520.84 L536.45,519.89 L539.06,518.89 L541.66,517.83 L544.23,516.72 L546.77,515.55 L549.29,514.33 L551.78,513.05 L554.24,511.72 L556.68,510.33 L559.08,508.9 L561.45,507.41 L563.79,505.87 L566.1,504.28 L568.37,502.64 L570.61,500.96 L572.8,499.22 L574.96,497.44 L577.09,495.61 L579.17,493.74 L581.21,491.82 L583.21,489.86 L585.16,487.85 L587.07,485.81 L588.94,483.72 L590.76,481.6 L592.54,479.43 L594.27,477.23 L595.95,474.99 L597.58,472.71 L599.16,470.4 L600.7,468.06 L602.18,465.68 L603.61,463.28 L604.99,460.84 L606.31,458.37 L607.58,455.88 L608.8,453.35 L609.96,450.81 L611.07,448.23 L612.12,445.64 L613.12,443.02 L614.05,440.38 L614.94,437.72 L615.76,435.05 L616.53,432.36 L617.23,429.65 L617.88,426.92 L618.47,424.18 L619.01,421.44 L619.53,418.68 L620.05,415.93 L620.57,413.18 L621.09,410.43 L621.61,407.68 L622.13,404.93 L622.65,402.17 L623.17,399.42 L623.69,396.67 L624.21,393.92 L624.73,391.17 L625.25,388.42 L625.77,385.66 L626.29,382.91 L626.81,380.16 L627.33,377.41 L627.85,374.66 L628.37,371.91 L628.88,369.15 L629.4,366.4 L629.92,363.65 L630.44,360.9 L630.96,358.15 L631.48,355.4 L632,352.64 L632.52,349.89 L633.04,347.14 L633.56,344.39 L634.08,341.64 L634.6,338.89 L635.12,336.14 L635.64,333.38 L636.16,330.63 L636.68,327.88 L637.2,325.13 L637.72,322.38 L638.24,319.63 L638.76,316.87 L639.28,314.12 L639.8,311.37 L640.32,308.62 L640.84,305.87 L641.36,303.12 L641.88,300.36 L642.4,297.61 L642.92,294.86 L643.44,292.11 L643.96,289.36 L644.48,286.61 L645,283.85 L645.52,281.1 L646.04,278.35 L646.56,275.6 L647.08,272.85 L647.6,270.1 L648.12,267.34 L648.64,264.59 L649.16,261.84 L649.68,259.09 L650.2,256.34 L650.72,253.59 L651.24,250.84 L651.76,248.08 L652.28,245.33 L652.8,242.58 L653.32,239.83 L653.84,237.08" fill="none" stroke="#1c1c1c" stroke-width="1.4" stroke-linejoin="round" stroke-linecap="round"/>
<path d="M411.4,564.4 L412.3,564.4 L413.19,564.4 L414.09,564.4 L414.98,564.4 L415.88,564.4 L416.77,564.4 L417.67,564.4 L418.57,564.4 L419.46,564.4 L420.36,564.4 L421.25,564.4 L422.15,564.4 L423.05,564.4 L423.94,564.4 L424.84,564.4 L425.73,564.4 L426.63,564.4 L427.52,564.4 L428.42,564.4 L429.32,564.4 L430.21,564.4 L431.11,564.4 L432,564.4 L432.9,564.4 L433.8,564.4 L434.69,564.4 L435.59,564.4 L436.48,564.4 L437.38,564.4 L438.27,564.4 L439.17,564.4 L440.07,564.4 L440.96,564.4 L441.86,564.4 L442.75,564.4 L443.65,564.4 L444.55,564.4 L445.44,564.4 L446.34,564.4 L447.23,564.4 L448.13,564.4 L449.02,564.4 L449.92,564.4 L450.82,564.4 L451.71,564.4 L452.61,564.4 L453.5,564.4 L454.4,564.4 L455.3,564.4 L456.19,564.4 L457.09,564.4 L457.98,564.4 L458.88,564.4 L459.77,564.4 L460.67,564.4 L461.57,564.4 L462.46,564.4 L463.36,564.4 L464.25,564.4 L465.15,564.4 L466.05,564.4 L466.94,564.4 L467.84,564.4 L468.73,564.4 L469.63,564.4 L470.52,564.4 L471.42,564.4 L472.32,564.4 L473.21,564.4 L474.11,564.4 L475,564.4 L475.9,564.4 L476.8,564.4 L477.69,564.4 L478.59,564.4 L479.48,564.4 L480.38,564.4 L481.27,564.4 L482.17,564.4 L483.07,564.4 L483.96,564.4 L484.86,564.4 L485.75,564.4 L486.65,564.4 L487.55,564.4 L488.44,564.4 L489.34,564.4 L490.23,564.4 L491.13,564.4 L492.23,564.38 L493.37,564.34 L494.52,564.3 L495.67,564.25 L496.81,564.19 L497.96,564.13 L499.1,564.06 L500.24,563.97 L501.38,563.88 L502.53,563.79 L503.67,563.68 L504.81,563.57 L505.95,563.45 L507.08,563.32 L508.22,563.18 L509.36,563.04 L510.49,562.89 L511.62,562.73 L512.76,562.56 L513.89,562.38 L515.02,562.2 L516.14,562.01 L517.27,561.81 L518.39,561.6 L519.52,561.39 L520.64,561.16 L521.76,560.93 L522.87,560.68 L523.99,560.43 L525.1,560.17 L526.21,559.9 L527.32,559.63 L528.43,559.35 L529.53,559.06 L530.63,558.76 L531.73,558.45 L532.83,558.14 L533.92,557.82 L535.02,557.49 L536.11,557.16 L537.19,556.82 L538.28,556.47 L539.36,556.11 L540.44,555.74 L541.52,555.37 L542.59,554.99 L543.66,554.61 L544.73,554.21 L545.8,553.81 L546.86,553.4 L547.92,552.99 L548.97,552.56 L550.03,552.13 L551.08,551.69 L552.12,551.25 L553.17,550.8 L554.21,550.34 L555.24,549.87 L556.28,549.4 L557.3,548.92 L558.33,548.43 L559.35,547.94 L560.37,547.44 L561.39,546.93 L562.4,546.41 L563.41,545.89 L564.41,545.36 L565.41,544.83 L566.41,544.28 L567.4,543.74 L568.39,543.18" fill="none" stroke="#1c1c1c" stroke-width="1.1" stroke-linejoin="round" stroke-linecap="round"/>
<path d="M350,553.5 L411.4,553.7 L414.23,553.7 L417.06,553.7 L419.89,553.7 L422.71,553.7 L425.54,553.7 L428.37,553.7 L431.2,553.7 L434.03,553.7 L436.86,553.7 L439.68,553.7 L442.51,553.7 L445.34,553.7 L448.17,553.7 L451,553.7 L453.83,553.7 L456.65,553.7 L459.48,553.7 L462.31,553.7 L465.14,553.7 L467.97,553.7 L470.8,553.7 L473.63,553.7 L476.45,553.7 L479.28,553.7 L482.11,553.7 L484.94,553.7 L487.77,553.7 L490.6,553.7 L493.84,553.65 L497.23,553.52 L500.61,553.32 L503.99,553.05 L507.35,552.7 L510.72,552.32 L514.11,552.1 L517.49,551.81 L520.88,551.44 L524.26,551 L527.64,550.48 L531.01,549.89 L534.38,549.22 L537.73,548.48 L541.07,547.66 L544.4,546.77 L547.71,545.81 L551,544.77 L554.28,543.66 L557.54,542.48 L560.77,541.22 L563.98,539.89 L567.17,538.48 L570.32,537 L573.42,535.39 L576.48,533.71 L579.5,531.97 L582.49,530.15 L585.44,528.27 L588.36,526.32 L591.23,524.31 L594.06,522.23 L596.85,520.09 L599.6,517.89 L602.29,515.63 L604.95,513.3 L607.52,510.89 L610.03,508.4 L612.48,505.86 L614.89,503.27 L617.23,500.62 L619.52,497.92 L621.75,495.17 L623.92,492.37 L626.04,489.52 L628.09,486.62 L630.08,483.68 L632,480.69 L633.86,477.66 L635.66,474.59 L637.38,471.47 L639.04,468.31 L640.62,465.12 L642.13,461.89 L643.58,458.62 L644.95,455.32 L646.26,452 L647.49,448.64 L648.66,445.26 L649.8,441.86 L650.87,438.43 L651.86,434.98 L652.78,431.51 L653.56,428.18 L654.12,425.41 L654.67,422.63 L655.23,419.86 L655.78,417.09 L656.34,414.31 L656.89,411.54 L657.45,408.77 L658,405.99 L658.56,403.22 L659.11,400.45 L659.67,397.67 L660.22,394.9 L660.78,392.12 L661.32,389.35 L661.86,386.57 L662.4,383.79 L662.94,381.02 L663.48,378.24 L664.02,375.47 L664.56,372.69 L665.1,369.91 L665.64,367.14 L666.18,364.36 L666.71,361.58 L667.25,358.81 L667.79,356.03 L668.33,353.25 L668.87,350.48 L669.41,347.7 L669.95,344.92 L670.49,342.15 L671.03,339.37 L671.57,336.59 L672.04,333.8 L672.51,331.01 L672.98,328.22 L673.45,325.44 L673.92,322.65 L674.39,319.86 L674.86,317.07 L675.33,314.28 L675.79,311.49 L676.26,308.7 L676.73,305.91 L677.2,303.12 L677.67,300.33 L678.14,297.54 L678.61,294.75 L679.08,291.96 L679.55,289.17 L680.02,286.38 L680.49,283.59 L680.96,280.8 L681.43,278.01 L681.9,275.22 L682.37,272.43 L682.83,269.64 L683.3,266.85 L683.77,264.06 L684.24,261.27 L684.71,258.48 L685.18,255.69 L685.65,252.9 L686.12,250.11 L686.59,247.32 L687.06,244.53 L687.56,241.75 L688.09,238.97 L694.37,240.16 L693.85,242.94 L693.34,245.72 L692.86,248.51 L692.38,251.29 L691.9,254.08 L691.42,256.87 L690.94,259.66 L690.46,262.44 L689.97,265.23 L689.49,268.02 L689.01,270.81 L688.53,273.59 L688.05,276.38 L687.57,279.17 L687.09,281.96 L686.61,284.74 L686.13,287.53 L685.65,290.32 L685.16,293.11 L684.68,295.89 L684.2,298.68 L683.72,301.47 L683.24,304.26 L682.76,307.04 L682.28,309.83 L681.8,312.62 L681.32,315.41 L680.83,318.2 L680.35,320.98 L679.87,323.77 L679.39,326.56 L678.91,329.35 L678.43,332.13 L677.95,334.92 L677.47,337.71 L676.97,340.49 L676.47,343.28 L675.97,346.06 L675.46,348.84 L674.96,351.63 L674.46,354.41 L673.96,357.2 L673.46,359.98 L672.96,362.76 L672.46,365.55 L671.96,368.33 L671.46,371.11 L670.96,373.9 L670.46,376.68 L669.96,379.47 L669.46,382.25 L668.95,385.03 L668.45,387.82 L667.95,390.6 L667.45,393.39 L666.93,396.17 L666.41,398.94 L665.88,401.72 L665.36,404.5 L664.83,407.28 L664.31,410.06 L663.78,412.84 L663.26,415.62 L662.73,418.4 L662.21,421.18 L661.68,423.96 L661.15,426.74 L660.63,429.52 L659.77,432.95 L658.74,436.56 L657.64,440.14 L656.45,443.69 L655.2,447.21 L653.87,450.7 L652.48,454.16 L651.01,457.58 L649.47,460.96 L647.86,464.3 L646.17,467.61 L644.42,470.87 L642.6,474.09 L640.71,477.26 L638.74,480.38 L636.71,483.45 L634.62,486.48 L632.46,489.45 L630.25,492.37 L627.97,495.24 L625.63,498.05 L623.24,500.81 L620.79,503.52 L618.29,506.16 L615.73,508.74 L613.12,511.27 L610.45,513.73 L607.76,516.15 L605.06,518.55 L602.3,520.88 L599.5,523.16 L596.66,525.37 L593.77,527.51 L590.83,529.59 L587.86,531.61 L584.84,533.55 L581.78,535.43 L578.69,537.24 L575.56,538.98 L572.4,540.65 L569.21,542.25 L565.98,543.78 L562.72,545.24 L559.44,546.62 L556.13,547.94 L552.8,549.18 L549.44,550.34 L546.06,551.43 L542.66,552.44 L539.24,553.38 L535.81,554.25 L532.36,555.03 L528.9,555.75 L525.43,556.38 L521.94,556.94 L518.45,557.42 L514.95,557.83 L511.45,558.16 L507.96,558.57 L504.47,558.93 L500.96,559.21 L497.45,559.42 L493.94,559.55 L490.6,559.6 L487.77,559.6 L484.94,559.6 L482.11,559.6 L479.28,559.6 L476.45,559.6 L473.63,559.6 L470.8,559.6 L467.97,559.6 L465.14,559.6 L462.31,559.6 L459.48,559.6 L456.65,559.6 L453.83,559.6 L451,559.6 L448.17,559.6 L445.34,559.6 L442.51,559.6 L439.68,559.6 L436.86,559.6 L434.03,559.6 L431.2,559.6 L428.37,559.6 L425.54,559.6 L422.71,559.6 L419.89,559.6 L417.06,559.6 L414.23,559.6 L411.4,559.6 L350,559.4 Z" fill="#fff" stroke="none" stroke-width="0" stroke-linejoin="round" stroke-linecap="round"/>
<path d="M350,553.5 L411.4,553.7 L414.23,553.7 L417.06,553.7 L419.89,553.7 L422.71,553.7 L425.54,553.7 L428.37,553.7 L431.2,553.7 L434.03,553.7 L436.86,553.7 L439.68,553.7 L442.51,553.7 L445.34,553.7 L448.17,553.7 L451,553.7 L453.83,553.7 L456.65,553.7 L459.48,553.7 L462.31,553.7 L465.14,553.7 L467.97,553.7 L470.8,553.7 L473.63,553.7 L476.45,553.7 L479.28,553.7 L482.11,553.7 L484.94,553.7 L487.77,553.7 L490.6,553.7 L493.84,553.65 L497.23,553.52 L500.61,553.32 L503.99,553.05 L507.35,552.7 L510.72,552.32 L514.11,552.1 L517.49,551.81 L520.88,551.44 L524.26,551 L527.64,550.48 L531.01,549.89 L534.38,549.22 L537.73,548.48 L541.07,547.66 L544.4,546.77 L547.71,545.81 L551,544.77 L554.28,543.66 L557.54,542.48 L560.77,541.22 L563.98,539.89 L567.17,538.48 L570.32,537 L573.42,535.39 L576.48,533.71 L579.5,531.97 L582.49,530.15 L585.44,528.27 L588.36,526.32 L591.23,524.31 L594.06,522.23 L596.85,520.09 L599.6,517.89 L602.29,515.63 L604.95,513.3 L607.52,510.89 L610.03,508.4 L612.48,505.86 L614.89,503.27 L617.23,500.62 L619.52,497.92 L621.75,495.17 L623.92,492.37 L626.04,489.52 L628.09,486.62 L630.08,483.68 L632,480.69 L633.86,477.66 L635.66,474.59 L637.38,471.47 L639.04,468.31 L640.62,465.12 L642.13,461.89 L643.58,458.62 L644.95,455.32 L646.26,452 L647.49,448.64 L648.66,445.26 L649.8,441.86 L650.87,438.43 L651.86,434.98 L652.78,431.51 L653.56,428.18 L654.12,425.41 L654.67,422.63 L655.23,419.86 L655.78,417.09 L656.34,414.31 L656.89,411.54 L657.45,408.77 L658,405.99 L658.56,403.22 L659.11,400.45 L659.67,397.67 L660.22,394.9 L660.78,392.12 L661.32,389.35 L661.86,386.57 L662.4,383.79 L662.94,381.02 L663.48,378.24 L664.02,375.47 L664.56,372.69 L665.1,369.91 L665.64,367.14 L666.18,364.36 L666.71,361.58 L667.25,358.81 L667.79,356.03 L668.33,353.25 L668.87,350.48 L669.41,347.7 L669.95,344.92 L670.49,342.15 L671.03,339.37 L671.57,336.59 L672.04,333.8 L672.51,331.01 L672.98,328.22 L673.45,325.44 L673.92,322.65 L674.39,319.86 L674.86,317.07 L675.33,314.28 L675.79,311.49 L676.26,308.7 L676.73,305.91 L677.2,303.12 L677.67,300.33 L678.14,297.54 L678.61,294.75 L679.08,291.96 L679.55,289.17 L680.02,286.38 L680.49,283.59 L680.96,280.8 L681.43,278.01 L681.9,275.22 L682.37,272.43 L682.83,269.64 L683.3,266.85 L683.77,264.06 L684.24,261.27 L684.71,258.48 L685.18,255.69 L685.65,252.9 L686.12,250.11 L686.59,247.32 L687.06,244.53 L687.56,241.75 L688.09,238.97" fill="none" stroke="#1c1c1c" stroke-width="1.7" stroke-linejoin="round" stroke-linecap="round"/>
<path d="M350,559.4 L411.4,559.6 L414.23,559.6 L417.06,559.6 L419.89,559.6 L422.71,559.6 L425.54,559.6 L428.37,559.6 L431.2,559.6 L434.03,559.6 L436.86,559.6 L439.68,559.6 L442.51,559.6 L445.34,559.6 L448.17,559.6 L451,559.6 L453.83,559.6 L456.65,559.6 L459.48,559.6 L462.31,559.6 L465.14,559.6 L467.97,559.6 L470.8,559.6 L473.63,559.6 L476.45,559.6 L479.28,559.6 L482.11,559.6 L484.94,559.6 L487.77,559.6 L490.6,559.6 L493.94,559.55 L497.45,559.42 L500.96,559.21 L504.47,558.93 L507.96,558.57 L511.45,558.16 L514.95,557.83 L518.45,557.42 L521.94,556.94 L525.43,556.38 L528.9,555.75 L532.36,555.03 L535.81,554.25 L539.24,553.38 L542.66,552.44 L546.06,551.43 L549.44,550.34 L552.8,549.18 L556.13,547.94 L559.44,546.62 L562.72,545.24 L565.98,543.78 L569.21,542.25 L572.4,540.65 L575.56,538.98 L578.69,537.24 L581.78,535.43 L584.84,533.55 L587.86,531.61 L590.83,529.59 L593.77,527.51 L596.66,525.37 L599.5,523.16 L602.3,520.88 L605.06,518.55 L607.76,516.15 L610.45,513.73 L613.12,511.27 L615.73,508.74 L618.29,506.16 L620.79,503.52 L623.24,500.81 L625.63,498.05 L627.97,495.24 L630.25,492.37 L632.46,489.45 L634.62,486.48 L636.71,483.45 L638.74,480.38 L640.71,477.26 L642.6,474.09 L644.42,470.87 L646.17,467.61 L647.86,464.3 L649.47,460.96 L651.01,457.58 L652.48,454.16 L653.87,450.7 L655.2,447.21 L656.45,443.69 L657.64,440.14 L658.74,436.56 L659.77,432.95 L660.63,429.52 L661.15,426.74 L661.68,423.96 L662.21,421.18 L662.73,418.4 L663.26,415.62 L663.78,412.84 L664.31,410.06 L664.83,407.28 L665.36,404.5 L665.88,401.72 L666.41,398.94 L666.93,396.17 L667.45,393.39 L667.95,390.6 L668.45,387.82 L668.95,385.03 L669.46,382.25 L669.96,379.47 L670.46,376.68 L670.96,373.9 L671.46,371.11 L671.96,368.33 L672.46,365.55 L672.96,362.76 L673.46,359.98 L673.96,357.2 L674.46,354.41 L674.96,351.63 L675.46,348.84 L675.97,346.06 L676.47,343.28 L676.97,340.49 L677.47,337.71 L677.95,334.92 L678.43,332.13 L678.91,329.35 L679.39,326.56 L679.87,323.77 L680.35,320.98 L680.83,318.2 L681.32,315.41 L681.8,312.62 L682.28,309.83 L682.76,307.04 L683.24,304.26 L683.72,301.47 L684.2,298.68 L684.68,295.89 L685.16,293.11 L685.65,290.32 L686.13,287.53 L686.61,284.74 L687.09,281.96 L687.57,279.17 L688.05,276.38 L688.53,273.59 L689.01,270.81 L689.49,268.02 L689.97,265.23 L690.46,262.44 L690.94,259.66 L691.42,256.87 L691.9,254.08 L692.38,251.29 L692.86,248.51 L693.34,245.72 L693.85,242.94 L694.37,240.16" fill="none" stroke="#1c1c1c" stroke-width="1.7" stroke-linejoin="round" stroke-linecap="round"/>
<path d="M627.89,486.9 L629.15,485.18 L630.38,483.44 L631.6,481.68 L632.79,479.91 L633.95,478.12 L635.1,476.31 L636.22,474.49 L637.32,472.65 L638.39,470.79 L639.44,468.91 L640.46,467.02 L641.46,465.12 L642.43,463.2 L643.38,461.27 L644.31,459.32 L645.21,457.36 L646.08,455.39 L646.93,453.41 L647.75,451.41 L648.55,449.4 L649.32,447.38 L650.09,445.35 L650.85,443.32 L651.57,441.27 L652.28,439.21 L652.91,437.13 L653.49,435.04 L654.05,432.94 L654.58,430.83 L655.04,428.8 L655.37,427.14 L655.7,425.47 L656.03,423.81 L656.35,422.15 L656.68,420.48 L657.01,418.82 L657.33,417.16 L657.66,415.49 L657.99,413.83 L658.32,412.17 L658.64,410.5 L658.97,408.84 L659.3,407.18 L659.56,405.5 L659.8,403.82 L660.05,402.14 L660.29,400.46 L660.54,398.78 L660.78,397.11 L661.03,395.43 L661.27,393.75 L661.52,392.07 L661.75,390.39 L661.99,388.71 L662.22,387.03 L662.46,385.35 L662.69,383.67 L662.93,381.98 L663.17,380.3 L663.4,378.62" fill="none" stroke="#1c1c1c" stroke-width="1.0" stroke-linejoin="round" stroke-linecap="round"/>
<path d="M674.3,164.5 L696.3,171.2 L688.4,211 L686,222 L687,238 L658,234 Z" fill="#fff" stroke="none" stroke-width="0" stroke-linejoin="round" stroke-linecap="round"/>
<path d="M674.3,164.5 L696.3,171.2 L688.4,211 L687.6,216" fill="none" stroke="#1c1c1c" stroke-width="1.65" stroke-linejoin="round" stroke-linecap="round"/>
<path d="M662.6,221 C663.5,220.7 666.17,219.63 668,219.2 C669.83,218.77 671.6,218.33 673.6,218.4 C675.6,218.47 678,218.9 680,219.6 C682,220.3 684.67,222.1 685.6,222.6 " fill="none" stroke="#1c1c1c" stroke-width="1.6" stroke-linejoin="round" stroke-linecap="round"/>
<path d="M696.3,172.4 L709.8,175.2 L702.6,214.6 L688.4,210.8 Z" fill="#fff" stroke="#1c1c1c" stroke-width="1.6" stroke-linejoin="round" stroke-linecap="round"/>
<path d="M709.8,175 L711.2,172.4 L713.3,173.6 L703.3,228.6 L700.4,228 L709.8,175 Z" fill="#fff" stroke="#1c1c1c" stroke-width="1.6" stroke-linejoin="round" stroke-linecap="round"/>
<path d="M708,197.1 L711.8,197.8 L710.4,206.5 L706.6,205.8 Z" fill="#fff" stroke="#1c1c1c" stroke-width="1.5" stroke-linejoin="round" stroke-linecap="round"/>
<path d="M697.7,193.9 L705.6,196" fill="none" stroke="#1c1c1c" stroke-width="2.6" stroke-linejoin="round" stroke-linecap="round"/>
<path d="M696.3,203.7 L703.8,205.7" fill="none" stroke="#1c1c1c" stroke-width="2.6" stroke-linejoin="round" stroke-linecap="round"/>
<path d="M688.4,228 L698.2,229.9 L696.4,239.4 L686.8,237.8 Z" fill="#fff" stroke="#1c1c1c" stroke-width="1.6" stroke-linejoin="round" stroke-linecap="round"/>
<path d="M685.6,218.4 L689.2,216.6 L689.6,226.6 L685.4,226.2 Z" fill="#fff" stroke="#1c1c1c" stroke-width="1.5" stroke-linejoin="round" stroke-linecap="round"/>
<path d="M692.4,219.1 L696.8,219.1 Q699.6,219.4 699.6,222.4 L699.6,224.8 Q699.4,228 696.6,228.1 L692.4,228.1 Q689.7,227.8 689.7,224.8 L689.7,222.4 Q689.9,219.3 692.4,219.1 Z" fill="#fff" stroke="#1c1c1c" stroke-width="1.6" stroke-linejoin="round" stroke-linecap="round"/>
<path d="M668.1,150.4 L676,152.3 L659.6,234.3 L652.2,233.2 Z" fill="#fff" stroke="#1c1c1c" stroke-width="1.65" stroke-linejoin="round" stroke-linecap="round"/>
<path d="M662.4,152.4 L666.9,153.3 L651.2,229.8 L647.2,228.6 Z" fill="#fff" stroke="#1c1c1c" stroke-width="1.0" stroke-linejoin="round" stroke-linecap="round"/>
<path d="M664.6,153 L649.4,229" fill="none" stroke="#1c1c1c" stroke-width="1.9" stroke-linejoin="round" stroke-linecap="round"/>
<path d="M667.2,153.4 L651.4,229.8" fill="none" stroke="#1c1c1c" stroke-width="1.0" stroke-linejoin="round" stroke-linecap="round"/>
<path d="M628.4,226.7 C628.12,226.32 627.02,225.97 626.7,224.4 C626.38,222.83 626.3,221.03 626.5,217.3 C626.7,213.57 627.27,207.32 627.9,202 C628.53,196.68 629.28,190.65 630.3,185.4 C631.32,180.15 632.6,175.48 634,170.5 C635.4,165.52 637.15,159.52 638.7,155.5 C640.25,151.48 642.53,147.92 643.3,146.4 L662,147.8 L644.9,232.3 L628.4,226.7" fill="#fff" stroke="#1c1c1c" stroke-width="1.65" stroke-linejoin="round" stroke-linecap="round"/>
<path d="M662,147.8 L644.9,232.3" fill="none" stroke="#1c1c1c" stroke-width="2.3" stroke-linejoin="round" stroke-linecap="round"/>
<path d="M643,147.1 C642.9,148.2 642.62,151.6 642.4,153.7 C642.18,155.8 641.82,158.7 641.7,159.7 " fill="none" stroke="#1c1c1c" stroke-width="1.6" stroke-linejoin="round" stroke-linecap="round"/>
<path d="M641.7,159.7 L638.7,165.8 L637.7,173.3 L635.4,185.4 L633.3,199.2 L631.2,203.6 L630.7,212.7 L628.9,219.2 L627.6,225.6" fill="none" stroke="#1c1c1c" stroke-width="1.6" stroke-linejoin="round" stroke-linecap="round"/>
<path d="M641.7,159.7 L657.6,164.9" fill="none" stroke="#1c1c1c" stroke-width="1.7" stroke-linejoin="round" stroke-linecap="round"/>
<path d="M637.7,173.3 L656,173.1" fill="none" stroke="#1c1c1c" stroke-width="1.7" stroke-linejoin="round" stroke-linecap="round"/>
<path d="M633.3,199.2 L649.9,206.6" fill="none" stroke="#1c1c1c" stroke-width="1.7" stroke-linejoin="round" stroke-linecap="round"/>
<path d="M630.7,212.7 L648,215.5" fill="none" stroke="#1c1c1c" stroke-width="1.7" stroke-linejoin="round" stroke-linecap="round"/>
<path d="M654,236.8 L687.4,243.6" fill="none" stroke="#1c1c1c" stroke-width="1.7" stroke-linejoin="round" stroke-linecap="round"/>
<line x1="610.7" y1="182" x2="729.5" y2="206" stroke="#555" stroke-width="0.95" stroke-dasharray="9 2.5 1.5 2.5" stroke-linecap="butt"/>
<line x1="607.2" y1="191.3" x2="656.4" y2="191.3" stroke="#454545" stroke-width="0.95" stroke-linecap="butt"/>
</svg>
</body></html>
